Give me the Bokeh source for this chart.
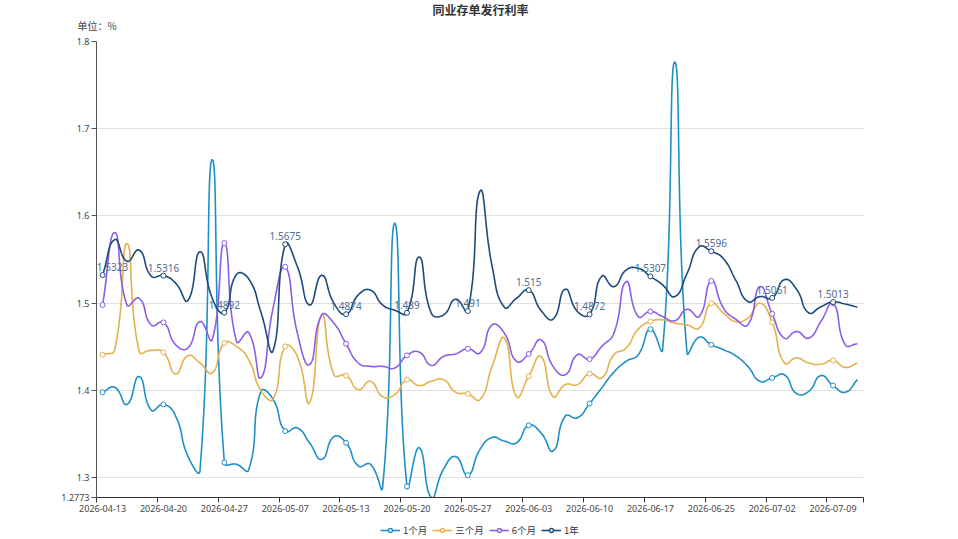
import math
from bokeh.plotting import figure
from bokeh.layouts import column
from bokeh.models import Range1d, FixedTicker, ColumnDataSource, Legend, LegendItem
from bokeh.core.properties import value
from bokeh.embed import file_html
from bokeh.resources import INLINE

dates = ["2026-04-13", "2026-04-14", "2026-04-15", "2026-04-16", "2026-04-17",
         "2026-04-20", "2026-04-21", "2026-04-22", "2026-04-23", "2026-04-24",
         "2026-04-27", "2026-04-28", "2026-04-29", "2026-04-30", "2026-05-06",
         "2026-05-07", "2026-05-08", "2026-05-09", "2026-05-11", "2026-05-12",
         "2026-05-13", "2026-05-14", "2026-05-15", "2026-05-18", "2026-05-19",
         "2026-05-20", "2026-05-21", "2026-05-22", "2026-05-25", "2026-05-26",
         "2026-05-27", "2026-05-28", "2026-05-29", "2026-06-01", "2026-06-02",
         "2026-06-03", "2026-06-04", "2026-06-05", "2026-06-08", "2026-06-09",
         "2026-06-10", "2026-06-11", "2026-06-12", "2026-06-15", "2026-06-16",
         "2026-06-17", "2026-06-18", "2026-06-22", "2026-06-23", "2026-06-24",
         "2026-06-25", "2026-06-26", "2026-06-29", "2026-06-30", "2026-07-01",
         "2026-07-02", "2026-07-03", "2026-07-06", "2026-07-07", "2026-07-08",
         "2026-07-09", "2026-07-10", "2026-07-13"]

m1 = [1.398, 1.4036, 1.384, 1.416, 1.3774, 1.384, 1.3706, 1.325, 1.308, 1.665,
      1.3174, 1.3154, 1.309, 1.399, 1.390, 1.3534, 1.357, 1.340, 1.321, 1.347,
      1.340, 1.3135, 1.3154, 1.2888, 1.592, 1.290, 1.3345, 1.2773, 1.3097, 1.3242,
      1.3029, 1.3325, 1.346, 1.342, 1.340, 1.360, 1.3516, 1.3306, 1.3706, 1.3687,
      1.385, 1.403, 1.421, 1.4334, 1.441, 1.4703, 1.4467, 1.777, 1.4436, 1.461,
      1.4524, 1.4467, 1.4398, 1.4276, 1.4105, 1.4144, 1.418, 1.3965, 1.399, 1.417,
      1.4056, 1.398, 1.4124]

m3 = [1.441, 1.4467, 1.5685, 1.4448, 1.446, 1.4436, 1.419, 1.4398, 1.4315, 1.420,
      1.4543, 1.4505, 1.4353, 1.400, 1.390, 1.4505, 1.439, 1.3858, 1.4866, 1.418,
      1.417, 1.401, 1.4105, 1.393, 1.3953, 1.4124, 1.4056, 1.4105, 1.4124, 1.398,
      1.396, 1.3896, 1.4276, 1.460, 1.393, 1.4162, 1.439, 1.393, 1.4067, 1.4067,
      1.4193, 1.4144, 1.441, 1.4486, 1.4703, 1.479, 1.481, 1.4772, 1.4752, 1.4715,
      1.500, 1.4886, 1.479, 1.483, 1.500, 1.478, 1.4315, 1.4372, 1.4315, 1.430,
      1.4345, 1.4265, 1.4315]

m6 = [1.498, 1.581, 1.498, 1.5057, 1.475, 1.478, 1.4524, 1.4486, 1.479, 1.458,
      1.569, 1.456, 1.4665, 1.4144, 1.494, 1.5418, 1.4657, 1.4296, 1.4866, 1.477,
      1.4535, 1.4315, 1.4276, 1.4276, 1.4258, 1.4402, 1.444, 1.4288, 1.439, 1.442,
      1.4478, 1.443, 1.4752, 1.4657, 1.4334, 1.4418, 1.458, 1.4276, 1.418, 1.441,
      1.436, 1.4505, 1.4657, 1.5247, 1.4847, 1.4905, 1.4847, 1.480, 1.493, 1.4847,
      1.5255, 1.4943, 1.4817, 1.4752, 1.519, 1.4878, 1.460, 1.4676, 1.460, 1.479,
      1.500, 1.4524, 1.4535]

y1 = [1.5323, 1.573, 1.548, 1.561, 1.531, 1.5316, 1.523, 1.503, 1.559, 1.506,
      1.4892, 1.533, 1.528, 1.490, 1.4455, 1.5675, 1.542, 1.498, 1.532, 1.500,
      1.4874, 1.5095, 1.515, 1.498, 1.492, 1.489, 1.553, 1.4886, 1.4866, 1.5046,
      1.491, 1.6286, 1.542, 1.4954, 1.5057, 1.515, 1.492, 1.4817, 1.516, 1.4905,
      1.4872, 1.531, 1.519, 1.538, 1.540, 1.5307, 1.521, 1.5076, 1.534, 1.5646,
      1.5596, 1.551, 1.5266, 1.502, 1.5076, 1.5061, 1.527, 1.516, 1.489, 1.496,
      1.5013, 1.499, 1.4955]

series_names = ["1个月", "三个月", "6个月", "1年"]
series_colors = ["#1e8fc6", "#e6b04c", "#8b5ee6", "#1b4a7a"]
y_ticks = [1.2773, 1.3, 1.4, 1.5, 1.6, 1.7, 1.8]
label_step = 5
chart_title = "同业存单发行利率"
unit_text = "单位：%"

N = len(dates)
W, H = 958, 539
TOP_H, LEG_H = 33, 20
MAIN_H = H - TOP_H - LEG_H
LEFT, RIGHT, MTOP, MBOTTOM = 96, 95, 8, 22
frame_w = W - LEFT - RIGHT
frame_h = MAIN_H - MTOP - MBOTTOM
y_lo, y_hi = min(y_ticks), max(y_ticks)
SX = frame_w / N
SY = frame_h / (y_hi - y_lo)

FONT = value("Noto Sans")
CJK = "Noto Sans CJK SC"


def smooth_curve(vals, smooth=0.5, steps=14):
    n = len(vals)
    P = [(i * SX, v * SY) for i, v in enumerate(vals)]
    cpp, cpn = [], []
    for i in range(n):
        x, y = P[i]
        px, py = P[i - 1] if i > 0 else P[i]
        nx, ny = P[i + 1] if i < n - 1 else P[i]
        vx, vy = nx - px, ny - py
        d0 = math.hypot(x - px, y - py)
        d1 = math.hypot(nx - x, ny - y)
        r = d1 / (d0 + d1) if (d0 + d1) > 0 else 0.5
        cpp.append((x - vx * smooth * (1 - r), y - vy * smooth * (1 - r)))
        cpn.append((x + vx * smooth * r, y + vy * smooth * r))
    xs, ys = [P[0][0] / SX], [P[0][1] / SY]
    for i in range(n - 1):
        p0, c1, c2, p3 = P[i], cpn[i], cpp[i + 1], P[i + 1]
        for k in range(1, steps + 1):
            t = k / steps
            a, b, c, d = (1 - t) ** 3, 3 * (1 - t) ** 2 * t, 3 * (1 - t) * t ** 2, t ** 3
            xs.append((a * p0[0] + b * c1[0] + c * c2[0] + d * p3[0]) / SX)
            ys.append((a * p0[1] + b * c1[1] + c * c2[1] + d * p3[1]) / SY)
    return xs, ys


# ---------- header (title + unit) ----------
top = figure(width=W, height=TOP_H, output_backend="svg", toolbar_location=None,
             x_range=Range1d(0, W), y_range=Range1d(0, TOP_H),
             x_axis_type=None, y_axis_type=None, min_border=0)
top.frame_align = False
top.outline_line_color = None
top.grid.visible = False
top.text(x=[480], y=[TOP_H - 9], text=[chart_title], text_font=value(CJK),
         text_font_size="12px", text_font_style="bold", text_color="#333333",
         text_align="center", text_baseline="middle")
top.text(x=[77], y=[TOP_H - 25], text=[unit_text], text_font=value(CJK),
         text_font_size="10px", text_color="#444444",
         text_align="left", text_baseline="middle")

# ---------- main chart ----------
p = figure(width=W, height=MAIN_H, output_backend="svg", toolbar_location=None,
           x_range=Range1d(-0.5, N - 0.5), y_range=Range1d(y_lo, y_hi),
           min_border_left=LEFT, min_border_right=RIGHT,
           min_border_top=MTOP, min_border_bottom=MBOTTOM)
p.outline_line_color = None

p.xaxis.ticker = FixedTicker(ticks=list(range(0, N, label_step)),
                             minor_ticks=[k - 0.5 for k in range(0, N, label_step)] + [N - 0.5])
p.xaxis.major_label_overrides = {i: dates[i] for i in range(0, N, label_step)}
p.xaxis.major_tick_line_color = None
p.xaxis.minor_tick_line_color = "#333333"
p.xaxis.minor_tick_out = 5
p.xaxis.minor_tick_in = 0
p.xaxis.axis_line_color = "#333333"
p.xaxis.axis_line_width = 1.2
p.xaxis.major_label_text_font = "Noto Sans"
p.xaxis.major_label_text_font_size = "9px"
p.xaxis.major_label_text_color = "#444444"
p.xaxis.major_label_standoff = 1

p.yaxis.ticker = FixedTicker(ticks=y_ticks)
p.yaxis.major_label_overrides = {t: ("%g" % t) for t in y_ticks}
p.yaxis.major_tick_out = 5
p.yaxis.major_tick_in = 0
p.yaxis.major_tick_line_color = "#555555"
p.yaxis.minor_tick_line_color = None
p.yaxis.axis_line_color = "#555555"
p.yaxis.major_label_text_font = "Noto Sans"
p.yaxis.major_label_text_font_size = "9px"
p.yaxis.major_label_text_color = "#444444"
p.yaxis.major_label_standoff = 2

p.xgrid.visible = False
p.ygrid.grid_line_color = "#e0e0e0"

mark_idx = list(range(0, N, label_step))
for name, col, vals in zip(series_names, series_colors, [m1, m3, m6, y1]):
    cx, cy = smooth_curve(vals)
    p.line(cx, cy, line_color=col, line_width=1.6)
    p.scatter(mark_idx, [vals[i] for i in mark_idx], size=5, marker="circle",
              fill_color="white", line_color=col, line_width=1)

lab_x = [i if i > 0 else -0.47 for i in mark_idx]
lab_align = ["center" if i > 0 else "left" for i in mark_idx]
lab_src = ColumnDataSource(dict(x=lab_x, y=[y1[i] for i in mark_idx],
                                t=["%g" % y1[i] for i in mark_idx], a=lab_align))
p.text(x="x", y="y", text="t", source=lab_src, text_font=FONT, text_font_size="10px",
       text_align="a", text_baseline="bottom", y_offset=-4, text_color="#4d6e93")

# ---------- legend strip ----------
leg = figure(width=W, height=LEG_H, output_backend="svg", toolbar_location=None,
             x_range=Range1d(0, 1), y_range=Range1d(0, 1),
             x_axis_type=None, y_axis_type=None, min_border=0)
leg.frame_align = False
leg.outline_line_color = None
leg.grid.visible = False
items = []
for name, col in zip(series_names, series_colors):
    lr = leg.line([-5, -4], [-5, -4], line_color=col, line_width=1.6)
    sr = leg.scatter([-5], [-5], size=8, marker="circle", fill_color="white",
                     line_color=col, line_width=1.3)
    items.append(LegendItem(label=name, renderers=[lr, sr]))
legend = Legend(items=items, orientation="horizontal", location=(380, 2),
                border_line_color=None, background_fill_alpha=0,
                label_text_font=CJK, label_text_font_size="9.5px", label_text_color="#333333",
                glyph_width=20, glyph_height=10, label_standoff=3, spacing=5,
                padding=0, margin=0, label_height=12)
leg.add_layout(legend, "center")

layout = column(top, p, leg, spacing=0)
open("out.html", "w").write(file_html(layout, INLINE))
